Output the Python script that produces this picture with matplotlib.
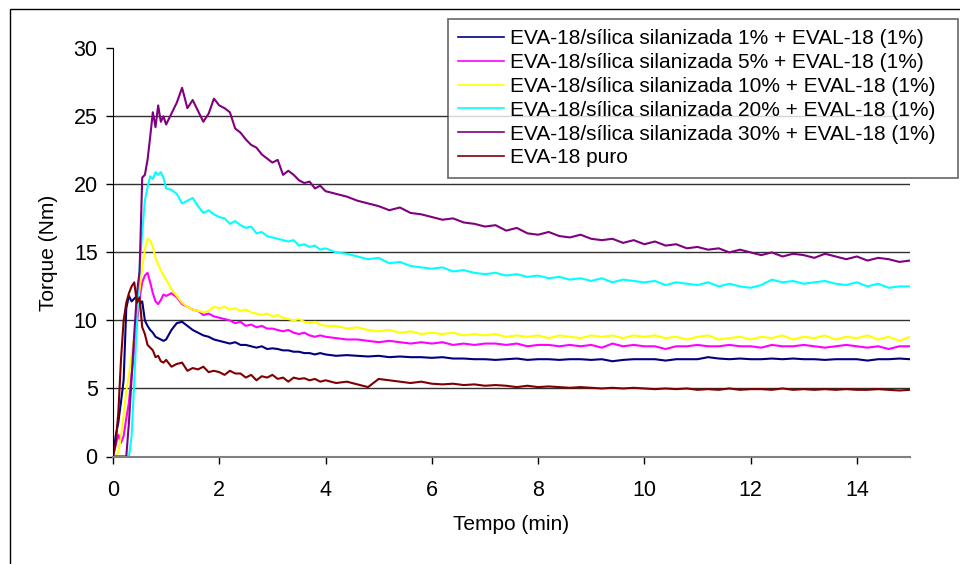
import numpy as np
import matplotlib
matplotlib.use("Agg")
import matplotlib.pyplot as plt
from matplotlib.patches import Rectangle

plt.rcParams['font.family'] = ['Liberation Sans', 'DejaVu Sans']

# sampling times (min): fine at start, coarser later
tempo = np.round(np.r_[np.arange(0, 1.001, 0.05), np.arange(1.1, 4.001, 0.1), np.arange(4.2, 15.001, 0.2)], 2)

s1 = [0, 1.5, 2.5, 4.0, 5.6, 10.9, 11.8, 11.4, 11.6, 11.8, 11.2, 11.4, 10.0, 9.6, 9.3, 9.1, 8.8, 8.7, 8.6, 8.5, 8.6,
      9.3, 9.8, 9.9, 9.6, 9.3, 9.1, 8.9, 8.8, 8.6, 8.5, 8.4, 8.3, 8.4, 8.2, 8.2, 8.1, 8.0, 8.1, 7.9, 7.95,
      7.9, 7.8, 7.8, 7.7, 7.7, 7.6, 7.6, 7.5, 7.6, 7.5,
      7.4, 7.45, 7.4, 7.35, 7.4, 7.3, 7.35, 7.3, 7.3, 7.25, 7.3, 7.2, 7.2, 7.15, 7.15, 7.1, 7.15, 7.2, 7.1, 7.15,
      7.15, 7.1, 7.15, 7.15, 7.1, 7.15, 7.0, 7.1, 7.15, 7.15, 7.15, 7.05, 7.15, 7.15, 7.15, 7.3, 7.2, 7.15, 7.2, 7.15,
      7.15, 7.2, 7.15, 7.2, 7.15, 7.15, 7.1, 7.15, 7.15, 7.15, 7.05, 7.15, 7.15, 7.2, 7.15]

s5 = [0, 0.8, 1.6, 1.0, 1.5, 2.8, 4.0, 6.0, 7.8, 9.8, 11.6, 12.8, 13.3, 13.5, 12.8, 12.0, 11.4, 11.2, 11.5, 11.9, 11.8,
      12.0, 11.7, 11.2, 11.0, 10.8, 10.7, 10.4, 10.5, 10.3, 10.2, 10.1, 10.0, 9.8, 9.9, 9.6, 9.7, 9.5, 9.6, 9.4, 9.4,
      9.3, 9.2, 9.3, 9.1, 9.0, 9.1, 8.9, 8.8, 8.9, 8.8,
      8.7, 8.6, 8.6, 8.5, 8.4, 8.5, 8.4, 8.3, 8.4, 8.3, 8.4, 8.2, 8.3, 8.2, 8.3, 8.3, 8.2, 8.3, 8.1, 8.2,
      8.2, 8.1, 8.2, 8.1, 8.2, 8.0, 8.3, 8.1, 8.2, 8.1, 8.1, 7.9, 8.1, 8.1, 8.2, 8.1, 8.1, 8.2, 8.1, 8.1,
      8.0, 8.2, 8.1, 8.1, 8.2, 8.1, 8.0, 8.1, 8.2, 8.1, 8.0, 8.1, 7.9, 8.1, 8.1]

s10 = [0, 0, 0.3, 1.5, 3.0, 4.8, 6.0, 7.5, 8.8, 10.5, 12.3, 13.9, 15.2, 16.0, 15.9, 15.4, 14.6, 14.1, 13.7, 13.3, 13.0,
       12.3, 11.8, 11.3, 11.0, 10.8, 10.7, 10.6, 10.7, 11.0, 10.9, 11.0, 10.8, 10.9, 10.7, 10.8, 10.6, 10.5, 10.4, 10.5, 10.3,
       10.4, 10.2, 10.1, 10.0, 10.1, 9.9, 9.8, 9.9, 9.7, 9.6,
       9.6, 9.4, 9.5, 9.3, 9.2, 9.3, 9.1, 9.2, 9.0, 9.1, 9.0, 9.1, 8.9, 9.0, 8.9, 9.0, 8.8, 8.9, 8.8, 8.9,
       8.7, 8.9, 8.8, 8.7, 8.9, 8.8, 8.9, 8.7, 8.9, 8.8, 8.9, 8.7, 8.8, 8.6, 8.8, 8.9, 8.6, 8.7, 8.8, 8.6,
       8.8, 8.7, 8.9, 8.6, 8.8, 8.7, 8.9, 8.6, 8.8, 8.7, 8.9, 8.6, 8.8, 8.5, 8.8]

s20 = [0, 0, 0, 0, 0, 0, 0, 1.5, 5.5, 10.0, 13.8, 16.5, 18.8, 19.8, 20.6, 20.4, 20.9, 20.7, 20.9, 20.5, 19.7,
       19.6, 19.3, 18.6, 18.8, 19.0, 18.4, 17.9, 18.1, 17.8, 17.6, 17.5, 17.1, 17.3, 17.0, 16.8, 16.9, 16.4, 16.5, 16.2, 16.1,
       16.0, 15.9, 15.8, 15.9, 15.5, 15.6, 15.4, 15.5, 15.2, 15.3,
       15.0, 14.9, 14.7, 14.5, 14.6, 14.2, 14.3, 14.0, 13.9, 13.8, 13.9, 13.6, 13.7, 13.5, 13.4, 13.5, 13.3, 13.4, 13.2, 13.3,
       13.1, 13.2, 13.0, 13.1, 12.9, 13.1, 12.8, 13.0, 12.9, 12.8, 12.9, 12.6, 12.8, 12.7, 12.6, 12.8, 12.5, 12.7, 12.5, 12.4,
       12.6, 13.0, 12.8, 12.9, 12.7, 12.8, 12.9, 12.7, 12.6, 12.8, 12.5, 12.7, 12.4, 12.5, 12.5]

s30 = [0, 0, 0, 0, 0, 0, 2.5, 5.8, 9.0, 12.0, 13.6, 20.5, 20.7, 21.8, 23.5, 25.3, 24.2, 25.8, 24.6, 25.0, 24.4,
       25.2, 26.0, 27.1, 25.6, 26.2, 25.4, 24.6, 25.2, 26.3, 25.8, 25.6, 25.3, 24.1, 23.8, 23.3, 22.9, 22.7, 22.2, 21.9, 21.6,
       21.8, 20.7, 21.0, 20.7, 20.3, 20.1, 20.2, 19.7, 19.9, 19.5,
       19.3, 19.1, 18.8, 18.6, 18.4, 18.1, 18.3, 17.9, 17.8, 17.6, 17.4, 17.5, 17.2, 17.1, 16.9, 17.0, 16.6, 16.8, 16.4, 16.3,
       16.5, 16.2, 16.1, 16.3, 16.0, 15.9, 16.0, 15.7, 15.9, 15.6, 15.8, 15.5, 15.6, 15.3, 15.4, 15.2, 15.3, 15.0, 15.2, 15.0,
       14.8, 15.0, 14.7, 14.9, 14.8, 14.6, 14.9, 14.7, 14.5, 14.7, 14.4, 14.6, 14.5, 14.3, 14.4]

puro = [0, 1.0, 3.2, 7.1, 10.0, 11.3, 12.0, 12.5, 12.8, 11.3, 11.7, 9.5, 9.0, 8.2, 8.0, 7.8, 7.3, 7.4, 7.0, 6.9, 7.1,
        6.6, 6.8, 6.9, 6.3, 6.5, 6.4, 6.6, 6.2, 6.3, 6.2, 6.0, 6.3, 6.1, 6.1, 5.8, 6.0, 5.6, 5.9, 5.8, 6.0,
        5.7, 5.8, 5.5, 5.8, 5.7, 5.75, 5.6, 5.7, 5.5, 5.6,
        5.4, 5.5, 5.3, 5.1, 5.7, 5.6, 5.5, 5.4, 5.5, 5.35, 5.3, 5.35, 5.25, 5.3, 5.2, 5.25, 5.2, 5.1, 5.2, 5.1,
        5.15, 5.1, 5.05, 5.1, 5.05, 5.0, 5.05, 5.0, 5.05, 5.0, 4.95, 5.0, 4.95, 5.0, 4.9, 4.95, 4.9, 5.0, 4.9, 4.95,
        4.95, 4.9, 5.0, 4.9, 4.95, 4.9, 4.95, 4.9, 4.95, 4.9, 4.9, 4.95, 4.9, 4.85, 4.9]

series = [s1, s5, s10, s20, s30, puro]
labels = ["EVA-18/sílica silanizada 1% + EVAL-18 (1%)",
          "EVA-18/sílica silanizada 5% + EVAL-18 (1%)",
          "EVA-18/sílica silanizada 10% + EVAL-18 (1%)",
          "EVA-18/sílica silanizada 20% + EVAL-18 (1%)",
          "EVA-18/sílica silanizada 30% + EVAL-18 (1%)",
          "EVA-18 puro"]
colors = ['#000080', '#FF00FF', '#FFFF00', '#00FFFF', '#800080', '#800000']

fig = plt.figure(figsize=(9.6, 5.64), dpi=100)
ax = fig.add_axes([113/960, 1 - 456.5/564, 797/960, (456.5 - 48.3)/564])

for y, lab, c in zip(series, labels, colors):
    ax.plot(tempo, y, color=c, lw=1.5, label=lab)

ax.set_xlim(0, 15)
ax.set_ylim(0, 30)
ax.set_xticks(range(0, 15, 2))
ax.set_yticks(range(0, 31, 5))
ax.tick_params(direction='out', length=5, width=1, labelsize=15.5, color='black')
ax.tick_params(axis='x', pad=12)
ax.tick_params(axis='y', pad=6)
for v in range(5, 30, 5):
    ax.axhline(v, color='#303030', lw=1, zorder=0)
ax.spines['top'].set_visible(False)
ax.spines['right'].set_visible(False)
ax.spines['bottom'].set_color('#808080')
ax.spines['bottom'].set_linewidth(1.5)
ax.spines['left'].set_color('black')
ax.set_xlabel("Tempo (min)", fontsize=15, labelpad=10)
ax.set_ylabel("Torque (Nm)", fontsize=15, labelpad=11)

x0, y1 = 448/960, 1 - 19/564
leg = ax.legend(loc='upper left', bbox_to_anchor=(x0, y1 - 0.3, 958/960 - x0, 0.3), bbox_transform=fig.transFigure,
                mode='expand', fontsize=15, frameon=True, fancybox=False, handlelength=2.2, borderaxespad=0,
                labelspacing=0.23, handletextpad=0.3, borderpad=0.5)
leg.get_frame().set_edgecolor('#404040')
leg.get_frame().set_linewidth(1.2)
for h in leg.get_lines():
    h.set_linewidth(1.2)

# outer chart frame
fig.patches.append(Rectangle((10/960, -0.1), 1.2, 1 - 9/564 + 0.1, transform=fig.transFigure,
                             fill=False, edgecolor='black', lw=1))

fig.savefig("out.png", dpi=100)
